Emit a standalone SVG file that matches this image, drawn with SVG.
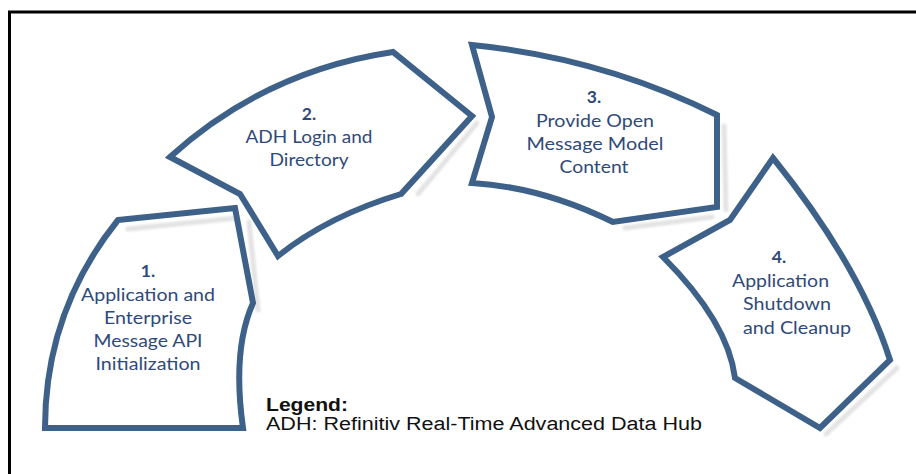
<svg xmlns="http://www.w3.org/2000/svg" width="916" height="474" viewBox="0 0 916 474">
  <defs>
    <filter id="soft" x="-10%" y="-10%" width="120%" height="120%">
      <feGaussianBlur stdDeviation="1.2"/>
    </filter>
  </defs>
  <style>
    .shape { fill: none; stroke: #3d6188; stroke-width: 6; stroke-linejoin: miter; stroke-miterlimit: 10; }
    .shadow { fill: none; stroke: #e3e3e3; stroke-width: 5; stroke-linecap: round; filter: url(#soft); }
    .num { font-family: Lato, "Open Sans", sans-serif; font-weight: bold; font-size: 17.5px; fill: #2f4a7a; text-anchor: middle; }
    .lbl { font-family: Lato, "Open Sans", sans-serif; font-size: 17.5px; fill: #2f4a7a; text-anchor: middle; }
    .lbl4 { font-family: Lato, "Open Sans", sans-serif; font-size: 17.5px; fill: #2f4a7a; }
    .leg { font-family: "Liberation Sans", Arial, sans-serif; font-size: 18px; fill: #111111; }
    .frame { fill: none; stroke: #000000; stroke-width: 3; }
  </style>
  <rect width="916" height="474" fill="#ffffff"/>
  <path class="frame" d="M9.5,474 V12 H916"/>

  <g id="shadows">
    <path class="shadow" d="M128,229 L236,218 M249,222 L258,310"/>
    <path class="shadow" d="M477,123 L418,194"/>
    <path class="shadow" d="M724,126 L726,210 M712,217 L625,228"/>
    <path class="shadow" d="M897,368 L826,434"/>
  </g>

  <g id="node1">
    <path class="shape" d="M118,220 L235,208 L253,303 Q232,350 243,428 L45,428 Q45,311 118,220 Z"/>
    <text class="num" x="148" y="277">1.</text>
    <text class="lbl" x="148" y="301" textLength="134" lengthAdjust="spacingAndGlyphs">Application and</text>
    <text class="lbl" x="148" y="324" textLength="88" lengthAdjust="spacingAndGlyphs">Enterprise</text>
    <text class="lbl" x="148" y="347" textLength="109" lengthAdjust="spacingAndGlyphs">Message API</text>
    <text class="lbl" x="148" y="370" textLength="105" lengthAdjust="spacingAndGlyphs">Initialization</text>
  </g>

  <g id="node2">
    <path class="shape" d="M170,157 Q265,71 393,52 L472,116 L401,194 Q328,216 278,256 L240,194 Z"/>
    <text class="num" x="309" y="120">2.</text>
    <text class="lbl" x="309" y="143" textLength="127" lengthAdjust="spacingAndGlyphs">ADH Login and</text>
    <text class="lbl" x="309" y="166" textLength="79" lengthAdjust="spacingAndGlyphs">Directory</text>
  </g>

  <g id="node3">
    <path class="shape" d="M472,45 Q603,58 717,115 L717,207 L613,222 Q542,187 472,183 L492,117 Z"/>
    <text class="num" x="594" y="103">3.</text>
    <text class="lbl" x="595" y="127" textLength="118" lengthAdjust="spacingAndGlyphs">Provide Open</text>
    <text class="lbl" x="595" y="150" textLength="137" lengthAdjust="spacingAndGlyphs">Message Model</text>
    <text class="lbl" x="594" y="173" textLength="69" lengthAdjust="spacingAndGlyphs">Content</text>
  </g>

  <g id="node4">
    <path class="shape" d="M773,158 Q860,266 890,360 L820,428 L735,378 Q728,322 663,257 L730,220 Z"/>
    <text class="num" x="779" y="263">4.</text>
    <text class="lbl4" x="732" y="287" textLength="97" lengthAdjust="spacingAndGlyphs">Application</text>
    <text class="lbl4" x="743" y="310" textLength="88" lengthAdjust="spacingAndGlyphs">Shutdown</text>
    <text class="lbl4" x="743" y="334" textLength="108" lengthAdjust="spacingAndGlyphs">and Cleanup</text>
  </g>

  <g id="legend">
    <text class="leg" x="266" y="410.5" font-weight="bold" textLength="82" lengthAdjust="spacingAndGlyphs">Legend:</text>
    <text class="leg" x="266" y="430" textLength="436" lengthAdjust="spacingAndGlyphs">ADH: Refinitiv Real-Time Advanced Data Hub</text>
  </g>

  <g id="connectors"></g>
</svg>
